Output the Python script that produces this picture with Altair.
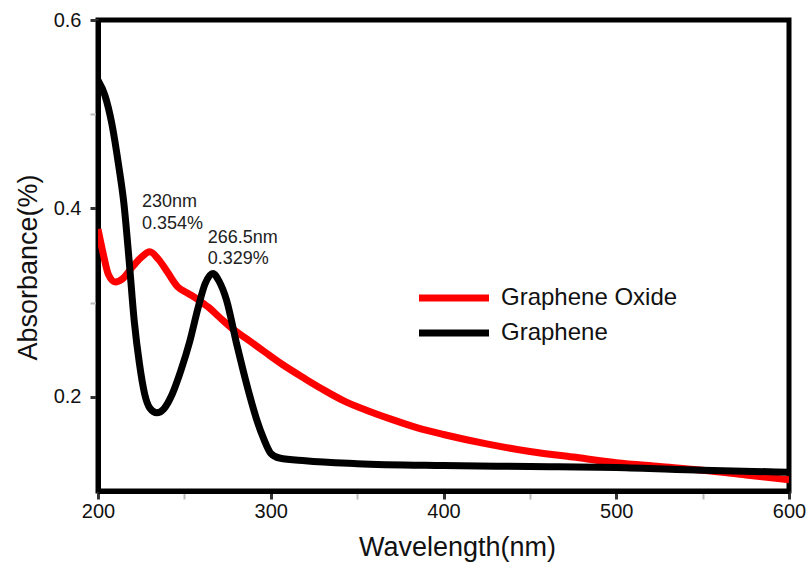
import altair as alt
import pandas as pd

# Graphene (black)
g_wl = [200, 204, 208, 212, 215, 218, 221, 224, 227, 230, 234, 238, 243, 248, 253, 258, 262, 266.5,
        270, 274.5, 280, 284, 288, 292, 296, 300, 305, 320, 350, 400, 450, 500, 550, 600]
g_abs = [0.536, 0.520, 0.490, 0.445, 0.405, 0.345, 0.280, 0.235, 0.203, 0.188, 0.183, 0.187, 0.203,
         0.228, 0.258, 0.295, 0.320, 0.331, 0.323, 0.302, 0.258, 0.228, 0.200, 0.175, 0.155, 0.140,
         0.135, 0.132, 0.129, 0.127, 0.126, 0.125, 0.122, 0.120]

# Graphene Oxide (red)
go_wl = [200, 203, 206, 210, 214, 220, 225, 230, 235, 240, 246, 252, 258, 264, 270, 278, 288, 297,
         307, 320, 330, 342, 355, 370, 385, 400, 425, 450, 475, 500, 525, 550, 575, 600]
go_abs = [0.378, 0.352, 0.330, 0.322, 0.325, 0.338, 0.348, 0.354, 0.346, 0.333, 0.317, 0.310, 0.303,
          0.295, 0.285, 0.272, 0.259, 0.247, 0.234, 0.219, 0.208, 0.196, 0.186, 0.176, 0.167, 0.160,
          0.150, 0.142, 0.136, 0.130, 0.126, 0.122, 0.117, 0.112]

series_names = ["Graphene Oxide", "Graphene"]
series_colors = ["#ff0000", "#000000"]

ann_text = ["230nm", "0.354%", "266.5nm", "0.329%"]
ann_x = [225.5, 225.5, 263.5, 263.5]
ann_y = [0.407, 0.383, 0.3686, 0.3463]

x_ticks = [200, 250, 300, 350, 400, 450, 500, 550, 600]
y_ticks = [0.2, 0.3, 0.4, 0.5, 0.6]

df = pd.concat([
    pd.DataFrame({"wl": go_wl, "abs": go_abs, "series": "Graphene Oxide", "order": range(len(go_wl))}),
    pd.DataFrame({"wl": g_wl, "abs": g_abs, "series": "Graphene", "order": range(len(g_wl))}),
])
ann = pd.DataFrame({"wl": ann_x, "abs": ann_y, "text": ann_text})

FONT = "Liberation Sans"

x_major = "datum.value % 100 === 0"
y_major = "round(datum.value * 10) % 2 === 0"

x_enc = alt.X("wl:Q", scale=alt.Scale(domain=[200, 600], nice=False),
              axis=alt.Axis(values=x_ticks, title="Wavelength(nm)", format="d",
                            labelExpr=f"{x_major} ? datum.label : ''",
                            labelFlush=False, labelPadding=2,
                            tickColor={"condition": {"test": x_major, "value": "#333333"}, "value": "#bbbbbb"},
                            tickWidth={"condition": {"test": x_major, "value": 3}, "value": 2},
                            titleX=359, titleY=56, titleBaseline="middle"))
y_enc = alt.Y("abs:Q", scale=alt.Scale(domain=[0.1, 0.6], nice=False, zero=False),
              axis=alt.Axis(values=y_ticks, title="Absorbance(%)", format=".1f",
                            labelExpr=f"{y_major} ? datum.label : ''",
                            labelFlush=False, labelPadding=9,
                            tickColor={"condition": {"test": y_major, "value": "#333333"}, "value": "#bbbbbb"},
                            tickWidth={"condition": {"test": y_major, "value": 3}, "value": 2},
                            titleX=-70, titleY=247, titleBaseline="middle", titleAnchor="middle"))

lines = alt.Chart(df).mark_line(strokeWidth=7, interpolate="monotone", clip=True).encode(
    x=x_enc,
    y=y_enc,
    color=alt.Color("series:N",
                    scale=alt.Scale(domain=series_names, range=series_colors),
                    sort=series_names,
                    legend=alt.Legend(title=None, orient="none", legendX=335, legendY=257,
                                      symbolType="M-2,0H2", symbolStrokeWidth=7, symbolSize=1225,
                                      labelFontSize=24, labelFont=FONT, labelColor="#111111",
                                      labelLimit=400, labelOffset=26, rowPadding=0)),
    order="order:Q",
    detail="series:N",
)

texts = alt.Chart(ann).mark_text(align="left", baseline="middle", fontSize=18, font=FONT,
                                 color="#222222").encode(
    x="wl:Q", y="abs:Q", text="text:N")

chart = (lines + texts).properties(
    width=691, height=471,
    autosize=alt.AutoSizeParams(type="none"),
    padding={"left": 98, "top": 20, "right": 20, "bottom": 81},
).configure_view(
    stroke="#000000", strokeWidth=5
).configure_axis(
    domainColor="#000000", domainWidth=5,
    tickSize=8,
    labelFontSize=20, labelFont=FONT, labelColor="#111111",
    titleFontSize=27, titleFont=FONT, titleFontWeight="normal", titleColor="#111111",
    grid=False,
)

chart.save("out.html", embed_options={"renderer": "svg", "actions": False})
